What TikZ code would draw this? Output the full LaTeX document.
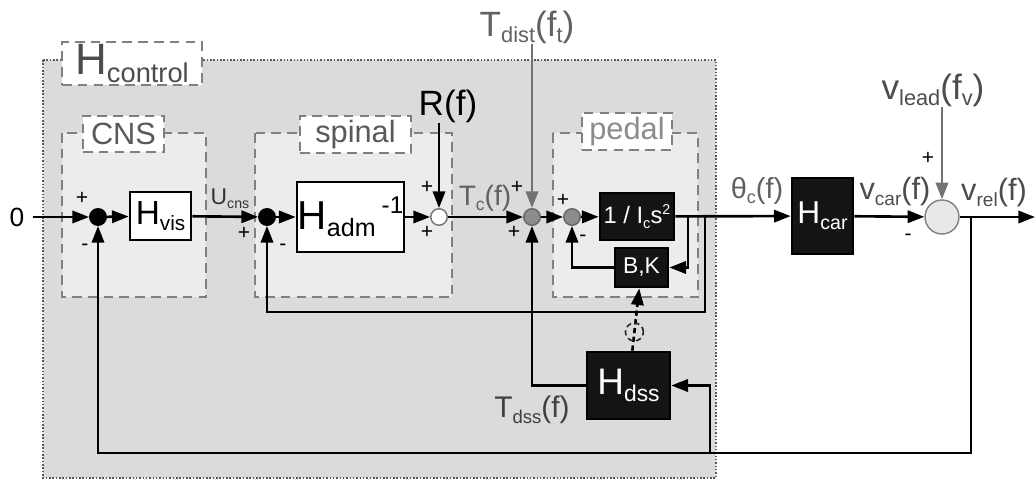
\documentclass[tikz,border=0pt]{standalone}
\usepackage{fontspec}
\setmainfont{Liberation Sans}
\usepackage{xcolor}
\usetikzlibrary{arrows.meta,positioning,calc}
\definecolor{ctrlgray}{gray}{0.86}
\definecolor{grpgray}{gray}{0.925}
\definecolor{sumgray}{gray}{0.55}
\definecolor{txtgray}{gray}{0.38}
\newcommand{\lo}[1]{\raisebox{-0.18em}{\scalebox{0.62}{#1}}}
\newcommand{\hi}[1]{\raisebox{0.38em}{\scalebox{0.6}{#1}}}
\newcommand{\fsz}[1]{\fontsize{#1}{#1}\selectfont}
\tikzset{
  ctrl/.style    ={draw=black!65, densely dotted, line width=0.9pt, fill=ctrlgray},
  grp/.style     ={draw=black!50, dash pattern=on 5.5pt off 3.5pt, line width=0.85pt,
                   fill=grpgray},
  grplbl/.style  ={rectangle, draw=black!50, dash pattern=on 5.5pt off 3.5pt,
                   line width=0.85pt, fill=white, text=black!65, inner sep=0pt,
                   font=\fsz{17.5}},
  blk/.style     ={rectangle, draw=black, line width=1.5pt, fill=white, inner sep=0pt},
  blkdark/.style ={blk, fill=black!92, text=white},
  sumnode/.style ={circle, minimum size=3.3mm, inner sep=0pt, draw=black, line width=0.8pt},
  sumblk/.style  ={sumnode, fill=black},
  sumwht/.style  ={sumnode, fill=white, draw=black!55},
  sumgry/.style  ={sumnode, fill=sumgray, draw=black!60},
  sumbig/.style  ={sumnode, minimum size=6.8mm, fill=black!9, draw=black!50},
  phinode/.style ={circle, draw=black!85, line width=0.9pt, minimum size=3.6mm, inner sep=0pt},
  sgn/.style     ={font=\fsz{12}, inner sep=0pt},
  sig/.style     ={text=txtgray, inner sep=0pt},
  flow/.style    ={-{Triangle[length=9.5pt,width=7pt]}, line width=1.5pt},
  flowgry/.style ={flow, draw=black!55, fill=black!55}
}

\begin{document}
\begin{tikzpicture}[x=0.2mm, y=-0.2mm]
  \useasboundingbox (0,0) rectangle (1035,479);

  % ---------------- groups ----------------
  \draw[ctrl] (43,60) rectangle (716,478);
  \draw[grp] (62,133)  rectangle (206,297);
  \draw[grp] (255,133) rectangle (452,297);
  \draw[grp] (553,133) rectangle (698,297);
  \node[grplbl, minimum width=28mm, minimum height=8.6mm, font=\fsz{25}, text=black!70]
                                       (lctrl) at (132,63.5)  {H\lo{control}};
  \node[grplbl, minimum width=16.2mm, minimum height=7.2mm] (lcns)  at (123.5,134) {CNS};
  \node[grplbl, minimum width=22.2mm, minimum height=7.4mm] (lspin) at (355.5,134.5) {spinal};
  \node[grplbl, minimum width=18mm,   minimum height=7.4mm, text=black!45]
                                       (lped)  at (627,131.5) {pedal};

  % ---------------- blocks ----------------
  \node[sig, text=black, font=\fsz{15}, inner xsep=1.6mm] (in0) at (17,217) {0};
  \node[sumblk] (s1)   at (98,217)  {};
  \node[blk, minimum width=12.2mm, minimum height=9.6mm, font=\fsz{19}]
                (hvis) at (160.5,216) {H\lo{vis}};
  \node[sumblk] (s2)   at (267,217) {};
  \node[blk, minimum width=21.4mm, minimum height=14mm, font=\fsz{23}]
                (hadm) at (350.5,217) {H\lo{adm}\hspace{0.15em}\hi{-1}};
  \node[sumwht] (s3)   at (439,217) {};
  \node[sumgry] (s4)   at (532,217) {};
  \node[sumgry] (s5)   at (572,217) {};
  \node[blkdark, minimum width=14.8mm, minimum height=9.4mm, font=\fsz{13.5}]
                (ics)  at (637,216.5) {1 / I\lo{c}s\hi{2}};
  \node[blkdark, minimum width=10.6mm, minimum height=7.8mm, font=\fsz{13}]
                (bk)   at (641.5,267.5) {B,K};
  \node[blkdark, minimum width=16.6mm, minimum height=13.4mm, font=\fsz{21}]
                (hdss) at (628.5,385.5) {H\lo{dss}};
  \node[blkdark, minimum width=12.2mm, minimum height=15.2mm, font=\fsz{18}]
                (hcar) at (822.5,216) {H\lo{car}};
  \node[sumbig] (s6)   at (942,217) {};

  % ---------------- inputs and labels ----------------
  \node[sig, text=black, font=\fsz{20}]   (rf)    at (448,106) {R(f)};
  \node[sig, font=\fsz{20}]               (tdist) at (527,27)  {T\lo{dist}(f\lo{t})};
  \node[sig, text=black!70, font=\fsz{20}] (vlead) at (933,90) {v\lo{lead}(f\lo{v})};
  \node[sig, text=black!80, font=\fsz{13}] (lucns) at (230,199) {U\lo{cns}};
  \node[sig, font=\fsz{16}]               (ltc)   at (485,198) {T\lo{c}(f)};
  \node[sig, font=\fsz{16.5}]             (lthc)  at (757,191) {θ\lo{c}(f)};
  \node[sig, text=black!70, font=\fsz{17.5}] (lvcar) at (895,192) {v\lo{car}(f)};
  \node[sig, text=black!70, font=\fsz{17.5}] (lvrel) at (994,193) {v\lo{rel}(f)};
  \node[sig, text=black!75, font=\fsz{17}] (ltdss) at (532,410) {T\lo{dss}(f)};

  % ---------------- signs ----------------
  \node[sgn] (p1) at (82,198)  {+};
  \node[sgn] (m1) at (85,247)  {-};
  \node[sgn] (p2) at (244,233) {+};
  \node[sgn] (m2) at (283,247) {-};
  \node[sgn] (p3) at (427,187) {+};
  \node[sgn] (q3) at (427,232) {+};
  \node[sgn] (p4) at (517,187) {+};
  \node[sgn] (q4) at (514,232) {+};
  \node[sgn] (p5) at (563,200) {+};
  \node[sgn] (m5) at (583,238) {-};
  \node[sgn] (p6) at (928,158) {+};
  \node[sgn] (m6) at (908,237) {-};

  % ---------------- branch points ----------------
  \coordinate (thbk) at (688,217);
  \coordinate (thsp) at (705,217);
  \coordinate (vrel) at (971,217);
  \coordinate (out)  at (1035,217);
  \coordinate (spfb) at (267,312);
  \coordinate (fbl)  at (98,453);
  \coordinate (fbh)  at (710,453);

  % ---------------- forward path ----------------
  \draw[flow] (in0)  -- (s1);
  \draw[flow] (s1)   -- (hvis);
  \draw[flow] (hvis) -- (s2);
  \draw[flow] (s2)   -- (hadm);
  \draw[flow] (hadm) -- (s3);
  \draw[flow] (s3)   -- (s4);
  \draw[flow] (s4)   -- (s5);
  \draw[flow] (s5)   -- (ics);
  \draw[flow] (ics)  -- (hcar);
  \draw[flow] (hcar) -- (s6);
  \draw[flow] (s6)   -- (out);
  \draw[flow]    (rf.south -| s3)    -- (s3);
  \draw[flowgry] (tdist.south -| s4) -- (s4);
  \draw[flowgry] (vlead.south -| s6) -- (s6);

  % ---------------- feedback ----------------
  \draw[flow] (thbk) |- (bk);
  \draw[flow] (bk)   -| (s5);
  \draw[flow] (thsp) |- (spfb) -- (s2);
  \draw[flow] (hdss) -| (s4);
  \draw[flow] (vrel) |- (fbl) -- (s1);
  \draw[flow] (fbh)  |- (hdss);
  % slow state of the muscle spindles
  \draw[flow, dash pattern=on 3pt off 2pt] (hdss) -- (bk)
    node[phinode, pos=0.3] (phi) {};
\end{tikzpicture}
\end{document}
